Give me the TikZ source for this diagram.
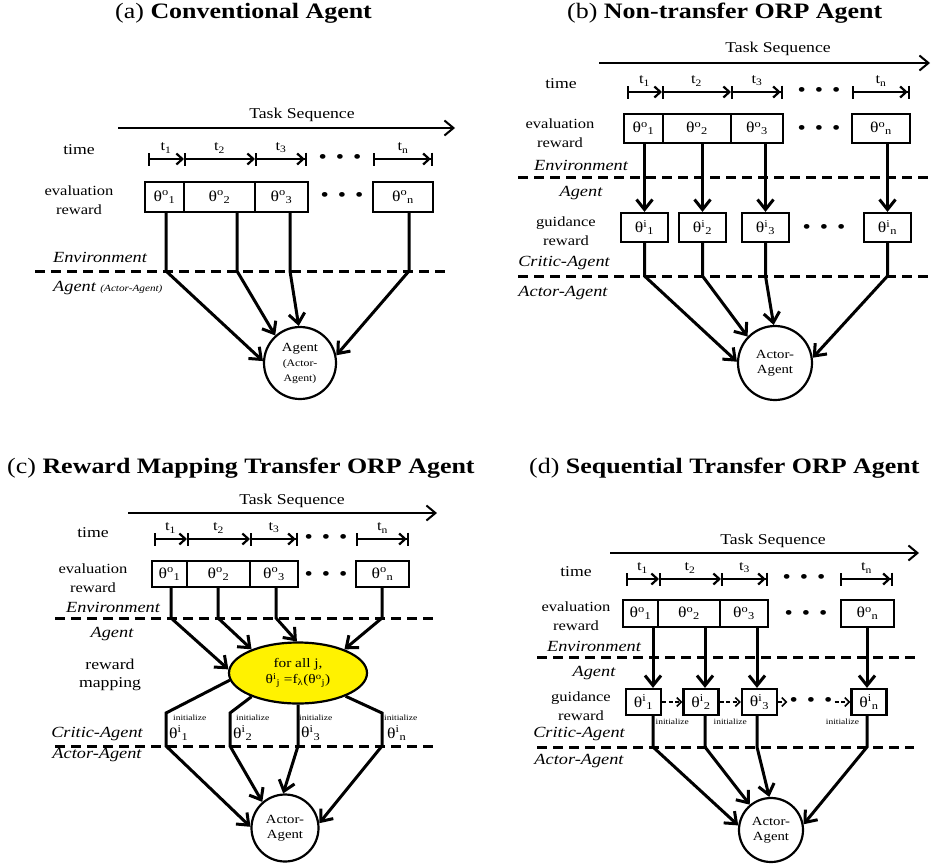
\documentclass[tikz,border=0pt]{standalone}
\usepackage{fontspec}
\setmainfont{Liberation Serif}[FakeStretch=1.18]
\usetikzlibrary{arrows.meta,shapes.geometric}
\newcommand{\evalth}[1]{θ\textsuperscript{o}\textsubscript{#1}}
\newcommand{\guideth}[1]{θ\textsuperscript{i}\textsubscript{#1}}
\newcommand{\dotrow}{\textbullet\hspace{9pt}\textbullet\hspace{9pt}\textbullet}
\newcommand{\tinyln}{\fontsize{10}{12}\selectfont}

\begin{document}
\begin{tikzpicture}[x=1pt, y=-1pt,
    title/.style={font=\fontsize{22}{26}\selectfont, inner sep=0pt, anchor=base west},
    lbl/.style={font=\fontsize{15}{18}\selectfont, inner sep=0pt},
    lbltwo/.style={font=\fontsize{14}{19}\selectfont, align=center, inner sep=0pt},
    layer/.style={font=\fontsize{15.5}{18}\selectfont\itshape, inner sep=0pt},
    seq/.style={line width=2pt, -{Straight Barb[length=9pt,width=15pt]}},
    tspan/.style={line width=2.2pt, {Bar[width=13pt]}-{Straight Barb[length=6pt,width=11pt]}},
    tspanend/.style={line width=2.2pt, {Bar[width=13pt]}-{Straight Barb[length=6pt,width=11pt] Bar[width=13pt]}},
    tlbl/.style={midway, yshift=11pt, font=\fontsize{14}{16}\selectfont, inner sep=0pt},
    ebox/.style 2 args={draw, line width=2.2pt, minimum width=#1, minimum height=#2,
        inner sep=0pt, font=\fontsize{15}{18}\selectfont},
    dots/.style={inner sep=2pt, font=\fontsize{20}{22}\selectfont},
    divider/.style={line width=3pt, dash pattern=on 10pt off 6pt},
    flow/.style={line width=3pt, -{Straight Barb[length=10pt,width=16pt]}},
    agent/.style={circle, draw, line width=2.2pt, minimum size=#1, inner sep=0pt,
        align=center, font=\fontsize{12.5}{15}\selectfont},
    init/.style={font=\fontsize{8}{9}\selectfont, inner sep=0pt},
    handoff/.style={line width=1.6pt, dash pattern=on 4pt off 2.5pt,
        -{Straight Barb[length=4.5pt,width=9pt]}}]
    \useasboundingbox (0,0) rectangle (932,865);

    % (a) conventional agent
    \node[title] (a-title) at (115,18) {(a) \textbf{Conventional Agent}};
    \node[lbl] (a-task) at (302,115) {Task Sequence};
    \coordinate (a-s0) at (118,128);
    \coordinate (a-s1) at (455,128);
    \draw[seq] (a-s0) -- (a-s1);

    \node[lbl] (a-time) at (79,150) {time};
    \coordinate (a-t0) at (148,159);
    \coordinate (a-t1) at (184,159);
    \coordinate (a-t2) at (255,159);
    \coordinate (a-t3) at (307,159);
    \coordinate (a-t4) at (373,159);
    \coordinate (a-t5) at (433,159);
    \draw[tspan] (a-t0) -- node[tlbl] {t\textsubscript{1}} (a-t1);
    \draw[tspan] (a-t1) -- node[tlbl] {t\textsubscript{2}} (a-t2);
    \draw[tspanend] (a-t2) -- node[tlbl] {t\textsubscript{3}} (a-t3);
    \node[dots] (a-tdots) at (340,159) {\dotrow};
    \draw[tspanend] (a-t4) -- node[tlbl] {t\textsubscript{n}} (a-t5);

    \node[lbltwo] (a-eval) at (79,200) {evaluation\\reward};
    \node[ebox={39}{30}] (a-e1) at (164.5,197) {\evalth{1}};
    \node[ebox={71}{30}] (a-e2) at (219.5,197) {\evalth{2}};
    \node[ebox={53}{30}] (a-e3) at (281.5,197) {\evalth{3}};
    \node[dots] (a-edots) at (342,197) {\dotrow};
    \node[ebox={60}{30}] (a-en) at (403,197) {\evalth{n}};

    \node[layer] (a-env) at (100,257) {Environment};
    \coordinate (a-d0) at (35,271);
    \coordinate (a-d1) at (450,271);
    \draw[divider] (a-d0) -- (a-d1);
    \node[layer, anchor=west] (a-agt) at (53,288) {Agent {\fontsize{9.5}{10}\selectfont (Actor-Agent)}};

    \node[agent=72] (a-agent) at (300,363) {Agent\\\tinyln(Actor-\\\tinyln Agent)};
    \coordinate (a-j1) at (166,271);
    \coordinate (a-j2) at (237,271);
    \coordinate (a-j3) at (290,271);
    \coordinate (a-j4) at (409,271);
    \draw[flow] (a-e1.south -| a-j1) -- (a-j1) -- (a-agent.177);
    \draw[flow] (a-e2.south -| a-j2) -- (a-j2) -- (a-agent.132);
    \draw[flow] (a-e3.south -| a-j3) -- (a-j3) -- (a-agent.92);
    \draw[flow] (a-en.south -| a-j4) -- (a-j4) -- (a-agent.12);

    % (b) non-transfer ORP agent
    \node[title] (b-title) at (567,18) {(b) \textbf{Non-transfer ORP Agent}};
    \node[lbl] (b-task) at (778,49) {Task Sequence};
    \coordinate (b-s0) at (599,63);
    \coordinate (b-s1) at (930,63);
    \draw[seq] (b-s0) -- (b-s1);

    \node[lbl] (b-time) at (561,84) {time};
    \coordinate (b-t0) at (627,92);
    \coordinate (b-t1) at (662,92);
    \coordinate (b-t2) at (731,92);
    \coordinate (b-t3) at (783,92);
    \coordinate (b-t4) at (852,92);
    \coordinate (b-t5) at (910,92);
    \draw[tspan] (b-t0) -- node[tlbl] {t\textsubscript{1}} (b-t1);
    \draw[tspan] (b-t1) -- node[tlbl] {t\textsubscript{2}} (b-t2);
    \draw[tspanend] (b-t2) -- node[tlbl] {t\textsubscript{3}} (b-t3);
    \node[dots] (b-tdots) at (819,92) {\dotrow};
    \draw[tspanend] (b-t4) -- node[tlbl] {t\textsubscript{n}} (b-t5);

    \node[lbltwo] (b-eval) at (560,133) {evaluation\\reward};
    \node[ebox={39}{29}] (b-e1) at (643.5,128.5) {\evalth{1}};
    \node[ebox={68}{29}] (b-e2) at (697,128.5) {\evalth{2}};
    \node[ebox={52}{29}] (b-e3) at (757,128.5) {\evalth{3}};
    \node[dots] (b-edots) at (819,130) {\dotrow};
    \node[ebox={58}{29}] (b-en) at (881,128.5) {\evalth{n}};

    \node[layer] (b-env) at (581,165) {Environment};
    \coordinate (b-d0) at (518,177);
    \coordinate (b-d1) at (932,177);
    \draw[divider] (b-d0) -- (b-d1);
    \node[layer] (b-agt) at (581,193) {Agent};

    \node[lbltwo] (b-guide) at (566,231) {guidance\\reward};
    \node[ebox={47}{29}] (b-g1) at (644.5,227.5) {\guideth{1}};
    \node[ebox={47}{29}] (b-g2) at (702.5,227.5) {\guideth{2}};
    \node[ebox={47}{29}] (b-g3) at (765.5,227.5) {\guideth{3}};
    \node[dots] (b-gdots) at (824,229) {\dotrow};
    \node[ebox={47}{29}] (b-gn) at (887.5,227.5) {\guideth{n}};
    \draw[flow] (b-e1.south -| b-g1) -- (b-g1.north);
    \draw[flow] (b-e2.south -| b-g2) -- (b-g2.north);
    \draw[flow] (b-e3.south -| b-g3) -- (b-g3.north);
    \draw[flow] (b-en.south -| b-gn) -- (b-gn.north);

    \node[layer] (b-critic) at (564,263) {Critic-Agent};
    \coordinate (b-d2) at (518,276);
    \coordinate (b-d3) at (932,276);
    \draw[divider] (b-d2) -- (b-d3);
    \node[layer] (b-actorlbl) at (563,293) {Actor-Agent};

    \node[agent=74] (b-actor) at (775,363) {Actor-\\Agent};
    \draw[flow] (b-g1.south) -- (b-g1.south |- b-d2) -- (b-actor.178);
    \draw[flow] (b-g2.south) -- (b-g2.south |- b-d2) -- (b-actor.136);
    \draw[flow] (b-g3.south) -- (b-g3.south |- b-d2) -- (b-actor.92);
    \draw[flow] (b-gn.south) -- (b-gn.south |- b-d2) -- (b-actor.8);

    % (c) reward mapping transfer ORP agent
    \node[title] (c-title) at (7,473) {(c) \textbf{Reward Mapping Transfer ORP Agent}};
    \node[lbl] (c-task) at (292,501) {Task Sequence};
    \coordinate (c-s0) at (128,513);
    \coordinate (c-s1) at (437,513);
    \draw[seq] (c-s0) -- (c-s1);

    \node[lbl] (c-time) at (93,533) {time};
    \coordinate (c-t0) at (154,539);
    \coordinate (c-t1) at (187,539);
    \coordinate (c-t2) at (250,539);
    \coordinate (c-t3) at (298,539);
    \coordinate (c-t4) at (356,539);
    \coordinate (c-t5) at (409,539);
    \draw[tspan] (c-t0) -- node[tlbl] {t\textsubscript{1}} (c-t1);
    \draw[tspan] (c-t1) -- node[tlbl] {t\textsubscript{2}} (c-t2);
    \draw[tspanend] (c-t2) -- node[tlbl] {t\textsubscript{3}} (c-t3);
    \node[dots] (c-tdots) at (326,539) {\dotrow};
    \draw[tspanend] (c-t4) -- node[tlbl] {t\textsubscript{n}} (c-t5);

    \node[lbltwo] (c-eval) at (93,578) {evaluation\\reward};
    \node[ebox={35}{26}] (c-e1) at (169.5,574) {\evalth{1}};
    \node[ebox={63}{26}] (c-e2) at (218.5,574) {\evalth{2}};
    \node[ebox={48}{26}] (c-e3) at (274,574) {\evalth{3}};
    \node[dots] (c-edots) at (326,576) {\dotrow};
    \node[ebox={53}{26}] (c-en) at (382.5,574) {\evalth{n}};

    \node[layer] (c-env) at (113,607) {Environment};
    \coordinate (c-d0) at (55,618);
    \coordinate (c-d1) at (437,618);
    \draw[divider] (c-d0) -- (c-d1);
    \node[layer] (c-agt) at (112,634) {Agent};

    \node[lbltwo, font=\fontsize{15}{18}\selectfont] (c-maplbl) at (110,675) {reward\\mapping};
    \node[ellipse, draw, line width=2.2pt, fill=yellow, minimum width=138, minimum height=61,
        inner sep=0pt, align=center, font=\fontsize{13}{16}\selectfont] (c-map) at (298,673)
        {for all j,\\\guideth{j} =f\textsubscript{λ}(\evalth{j})};
    \coordinate (c-j1) at (171,618);
    \coordinate (c-j2) at (218,618);
    \coordinate (c-j3) at (276,618);
    \coordinate (c-j4) at (382,618);
    \draw[flow] (c-e1.south -| c-j1) -- (c-j1) -- (c-map.177);
    \draw[flow] (c-e2.south -| c-j2) -- (c-j2) -- (c-map.153);
    \draw[flow] (c-e3.south -| c-j3) -- (c-j3) -- (c-map.92);
    \draw[flow] (c-en.south -| c-j4) -- (c-j4) -- (c-map.27);

    \node[layer] (c-critic) at (97,734) {Critic-Agent};
    \coordinate (c-d2) at (55,746);
    \coordinate (c-d3) at (435,746);
    \draw[divider] (c-d2) -- (c-d3);
    \node[layer] (c-actorlbl) at (97,755) {Actor-Agent};

    \node[agent=67] (c-actor) at (285,828) {Actor-\\Agent};
    \coordinate (c-k1) at (166,713);
    \coordinate (c-k2) at (230,713);
    \coordinate (c-k4) at (382,713);
    \draw[flow] (c-map.186) -- (c-k1) -- (c-k1 |- c-d2) -- (c-actor.178);
    \draw[flow] (c-map.207) -- (c-k2) -- (c-k2 |- c-d2) -- (c-actor.131);
    \draw[flow] (c-map.south) -- (c-map.south |- c-d2) -- (c-actor.93);
    \draw[flow] (c-map.334) -- (c-k4) -- (c-k4 |- c-d2) -- (c-actor.8);
    \node[init, anchor=west] (c-init1) at (173,718) {initialize};
    \node[init, anchor=west] (c-init2) at (236,718) {initialize};
    \node[init, anchor=west] (c-init3) at (299,718) {initialize};
    \node[init, anchor=west] (c-init4) at (384,718) {initialize};
    \node[lbl, anchor=west] (c-i1) at (169,733) {\guideth{1}};
    \node[lbl, anchor=west] (c-i2) at (233,733) {\guideth{2}};
    \node[lbl, anchor=west] (c-i3) at (301,733) {\guideth{3}};
    \node[lbl, anchor=west] (c-in) at (387,733) {\guideth{n}};

    % (d) sequential transfer ORP agent
    \node[title] (d-title) at (529,473) {(d) \textbf{Sequential Transfer ORP Agent}};
    \node[lbl] (d-task) at (773,541) {Task Sequence};
    \coordinate (d-s0) at (610,553);
    \coordinate (d-s1) at (919,553);
    \draw[seq] (d-s0) -- (d-s1);

    \node[lbl] (d-time) at (576,572) {time};
    \coordinate (d-t0) at (626,579);
    \coordinate (d-t1) at (659,579);
    \coordinate (d-t2) at (721,579);
    \coordinate (d-t3) at (768,579);
    \coordinate (d-t4) at (840,579);
    \coordinate (d-t5) at (893,579);
    \draw[tspan] (d-t0) -- node[tlbl] {t\textsubscript{1}} (d-t1);
    \draw[tspan] (d-t1) -- node[tlbl] {t\textsubscript{2}} (d-t2);
    \draw[tspanend] (d-t2) -- node[tlbl] {t\textsubscript{3}} (d-t3);
    \node[dots] (d-tdots) at (804,579) {\dotrow};
    \draw[tspanend] (d-t4) -- node[tlbl] {t\textsubscript{n}} (d-t5);

    \node[lbltwo] (d-eval) at (576,616) {evaluation\\reward};
    \node[ebox={35}{27}] (d-e1) at (640.5,613.5) {\evalth{1}};
    \node[ebox={62}{27}] (d-e2) at (689,613.5) {\evalth{2}};
    \node[ebox={48}{27}] (d-e3) at (744,613.5) {\evalth{3}};
    \node[dots] (d-edots) at (806,615) {\dotrow};
    \node[ebox={53}{27}] (d-en) at (867.5,613.5) {\evalth{n}};

    \node[layer] (d-env) at (594,646) {Environment};
    \coordinate (d-d0) at (537,657);
    \coordinate (d-d1) at (916,657);
    \draw[divider] (d-d0) -- (d-d1);
    \node[layer] (d-agt) at (594,673) {Agent};

    \node[lbltwo] (d-guide) at (581,706) {guidance\\reward};
    \node[ebox={35}{26}] (d-g1) at (643.5,702) {\guideth{1}};
    \node[ebox={35}{26}] (d-g2) at (701,702) {\guideth{2}};
    \node[ebox={35}{26}] (d-g3) at (759.5,702) {\guideth{3}};
    \node[dots] (d-gdots) at (811,702) {\dotrow};
    \node[ebox={35}{26}] (d-gn) at (869,702) {\guideth{n}};
    \draw[handoff] (d-g1) -- node[init, below=16pt] {initialize} (d-g2);
    \draw[handoff] (d-g2) -- node[init, below=16pt] {initialize} (d-g3);
    \draw[handoff] (d-g3) -- (d-gdots);
    \draw[handoff] (d-gdots) -- node[init, below=16pt] {initialize} (d-gn);

    \node[layer] (d-critic) at (579,734) {Critic-Agent};
    \coordinate (d-d2) at (537,747);
    \coordinate (d-d3) at (914,747);
    \draw[divider] (d-d2) -- (d-d3);
    \node[layer] (d-actorlbl) at (579,761) {Actor-Agent};

    \node[agent=64] (d-actor) at (771,830) {Actor-\\Agent};
    \coordinate (d-j1) at (653,747);
    \coordinate (d-j2) at (705,747);
    \coordinate (d-j3) at (757,747);
    \coordinate (d-j4) at (867,747);
    \draw[flow] (d-e1.south -| d-j1) -- (d-g1.north -| d-j1);
    \draw[flow] (d-e2.south -| d-j2) -- (d-g2.north -| d-j2);
    \draw[flow] (d-e3.south -| d-j3) -- (d-g3.north -| d-j3);
    \draw[flow] (d-en.south -| d-j4) -- (d-gn.north -| d-j4);
    \draw[flow] (d-g1.south -| d-j1) -- (d-j1) -- (d-actor.172);
    \draw[flow] (d-g2.south -| d-j2) -- (d-j2) -- (d-actor.130);
    \draw[flow] (d-g3.south -| d-j3) -- (d-j3) -- (d-actor.93);
    \draw[flow] (d-gn.south -| d-j4) -- (d-j4) -- (d-actor.10);
\end{tikzpicture}
\end{document}
